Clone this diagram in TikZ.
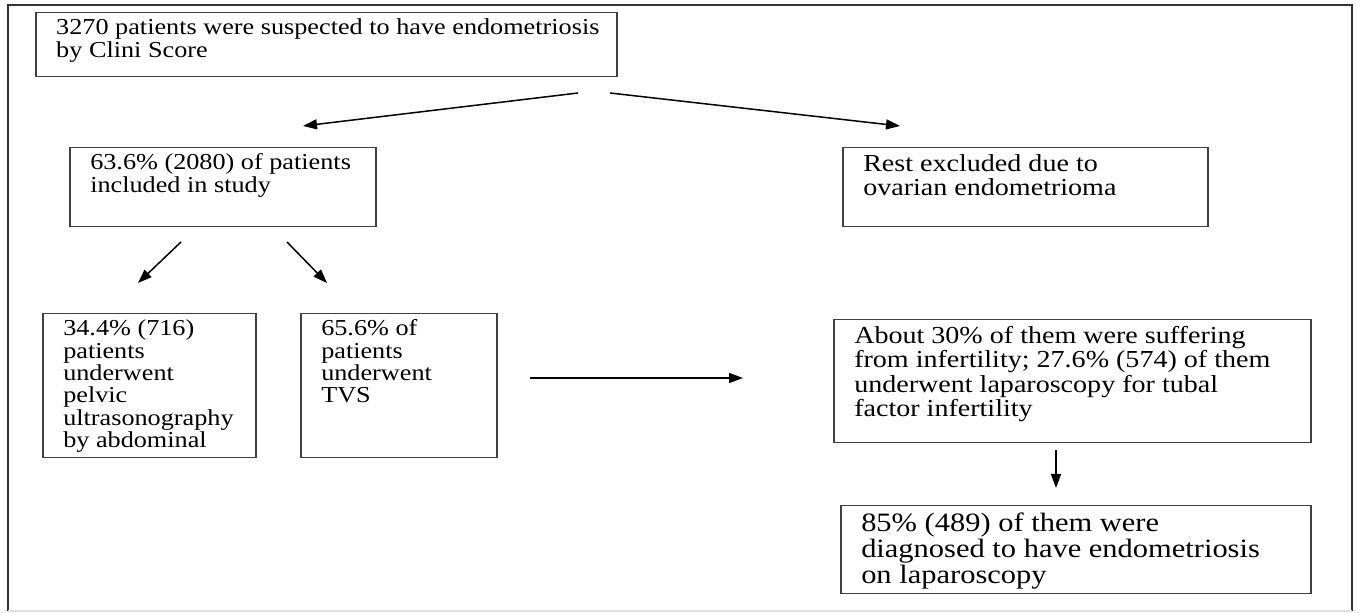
\documentclass[tikz,border=0pt]{standalone}
\usepackage{fontspec}
\setmainfont[FakeStretch=1.15]{Liberation Serif}
\usetikzlibrary{arrows.meta}

\newcommand{\flowtext}[3]{%
  \parbox[t][\dimexpr#2pt/2\relax][t]{\dimexpr#1pt/2\relax}{%
    \raggedright\leftskip=10.25pt\hyphenpenalty=10000\rule{0pt}{0.96em}#3}}
\newcommand{\txtA}{\fontsize{11.4}{11.2}\selectfont}
\newcommand{\txtB}{\fontsize{12.2}{12.3}\selectfont}
\newcommand{\txtC}{\fontsize{13.25}{13.1}\selectfont}

\tikzset{
  flowbox/.style={draw=black!75, line width=0.75pt, anchor=north west, inner sep=0pt},
  flowarrow/.style={line width=0.75pt, -{Triangle[length=7pt,width=5pt]}},
}

\begin{document}
\begin{tikzpicture}[x=0.5pt,y=-0.5pt]
\useasboundingbox (0,0) rectangle (1361,613);
% outer frame
\draw [black!80, line width=0.65pt] (8,611) -- (8,5) -- (1352,5) -- (1352,611);
\draw [black!12, line width=0.6pt] (8,611) -- (1352,611);

% boxes
\node[flowbox, font=\txtA] (clini) at (35,12)%
{\flowtext{581}{64}{3270 patients were suspected to have endometriosis\\ by Clini Score}};
\node[flowbox, font=\txtA] (incl) at (69,147)%
{\flowtext{306}{79}{63.6\% (2080) of patients\\ included in study}};
\node[flowbox, font=\txtB] (excl) at (842,147)%
{\flowtext{365}{79}{Rest excluded due to\\ ovarian endometrioma}};
\node[flowbox, font=\txtA] (abdo) at (42,313)%
{\flowtext{213}{144}{34.4\% (716)\\ patients\\ underwent\\ pelvic\\ ultrasonography\\ by abdominal}};
\node[flowbox, font=\txtA] (tvs) at (300,313)%
{\flowtext{196}{144}{65.6\% of\\ patients\\ underwent\\ TVS}};
\node[flowbox, font=\txtB] (infert) at (833,319)%
{\flowtext{477}{123}{About 30\% of them were suffering\\ from infertility; 27.6\% (574) of them\\ underwent laparoscopy for tubal\\ factor infertility}};
\node[flowbox, font=\txtC] (endo) at (840,505)%
{\flowtext{470}{88}{85\% (489) of them were\\ diagnosed to have endometriosis\\ on laparoscopy}};

% arrow ends
\coordinate (splitL) at (578,93);
\coordinate (splitR) at (610,93);
\coordinate (inclTip) at (303,126);
\coordinate (exclTip) at (900,126);
\coordinate (abdoTail) at (181,242);
\coordinate (abdoTip) at (138,283);
\coordinate (tvsTail) at (287,242);
\coordinate (tvsTip) at (327,283);
\coordinate (infTail) at (530,378);
\coordinate (infTip) at (743,378);
\coordinate (endoTail) at (1056,450);
\coordinate (endoTip) at (1056,488);

\draw [flowarrow] (splitL) -- (inclTip);
\draw [flowarrow] (splitR) -- (exclTip);
\draw [flowarrow] (abdoTail) -- (abdoTip);
\draw [flowarrow] (tvsTail) -- (tvsTip);
\draw [flowarrow] (infTail) -- (infTip);
\draw [flowarrow] (endoTail) -- (endoTip);
\end{tikzpicture}
\end{document}
